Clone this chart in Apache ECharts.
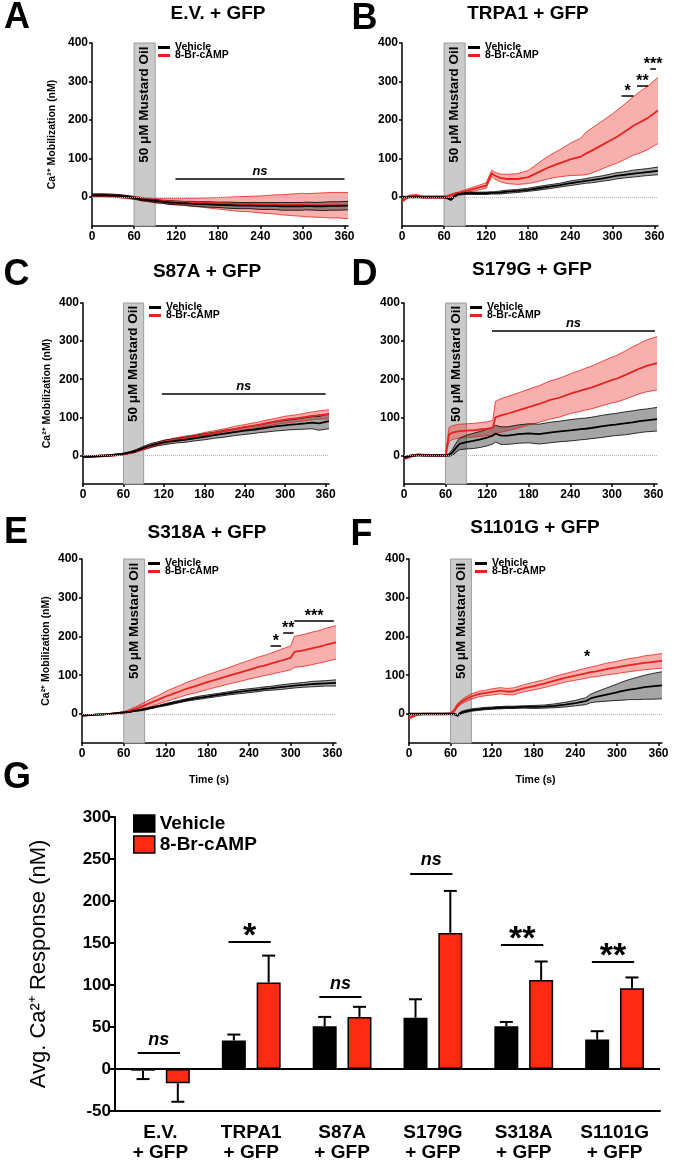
<!DOCTYPE html>
<html>
<head>
<meta charset="utf-8">
<title>Ca2+ mobilization</title>
<script src="https://cdn.jsdelivr.net/npm/echarts@6.0.0/dist/echarts.min.js"></script>
<style>
  html, body { margin: 0; padding: 0; background: #fff; }
  #chart { width: 675px; height: 1169px; }
</style>
</head>
<body>
<div id="chart"></div>
<script>
// sampling times of the traces (s)
var timeSec = [0,10,20,30,40,50,60, 65,70,75,80, 90,100,110,120, 128,132, 140,150,165,180, 195,210,225,240, 255,262,270, 285,300,305, 318,330,340,350,365];

// A  E.V. + GFP
var vehMeanA  = [5,5,5,4,3,1,-2, -4,-6,-7,-8, -10,-12,-14,-15, -16,-16, -17,-18,-19,-20, -21,-22,-22,-23, -23,-23,-24, -24,-24,-23, -24,-24,-23,-23,-22];
var vehSemA   = [3,3,3,3,3,3,3, 3,3,3,3, 4,4,5,5, 5,5, 6,6,7,7, 8,8,8,9, 9,9,10, 10,10,10, 10,11,11,11,11];
var campMeanA = [4,5,4,4,2,0,-2, -3,-5,-6,-7, -9,-10,-11,-12, -12,-13, -13,-14,-15,-16, -17,-18,-18,-19, -19,-19,-20, -20,-20,-21, -21,-21,-21,-21,-22];
var campSemA  = [4,4,4,4,4,4,4, 4,5,5,5, 6,6,7,8, 8,9, 10,11,13,15, 17,19,20,22, 24,25,26, 28,30,30, 31,32,33,33,34];

// B  TRPA1 + GFP
var vehMeanB  = [0,0,0,0,0,0,0, -3,-6,2,8, 10,10,10,10, 11,11, 12,14,16,19, 23,27,31,36, 40,42,44, 48,53,55, 58,61,63,65,68];
var vehSemB   = [2,2,2,2,2,2,2, 2,3,3,3, 3,3,3,3, 3,3, 4,4,4,4, 5,5,5,6, 6,6,7, 7,8,8, 8,9,9,9,10];
var campMeanB = [-10,2,4,0,0,0,0, 2,5,8,10, 15,20,25,30, 62,56, 50,47,47,52, 65,78,88,98, 105,113,120, 135,150,155, 170,185,195,205,225];
var campSemB  = [3,3,3,3,3,3,3, 3,3,3,3, 4,5,6,7, 8,9, 10,12,14,17, 24,30,35,42, 48,55,58, 62,66,68, 72,76,80,82,86];

// C  S87A + GFP
var vehMeanC  = [-4,-3,-2,-1,0,2,4, 6,8,10,13, 20,26,30,34, 36,37, 39,41,45,49, 53,57,61,65, 68,70,72, 76,79,80, 82,84,86,84,90];
var vehSemC   = [2,2,2,2,2,2,2, 2,2,3,3, 4,5,5,6, 6,6, 6,7,7,8, 8,9,9,10, 10,10,11, 12,13,13, 14,15,16,18,20];
var campMeanC = [-3,-3,-2,-1,0,1,3, 5,7,9,12, 18,24,30,35, 38,40, 42,45,49,54, 59,64,69,74, 79,81,84, 89,94,95, 98,101,104,106,108];
var campSemC  = [2,2,2,2,2,2,2, 2,2,3,3, 3,4,4,4, 4,4, 5,5,5,6, 6,6,7,7, 7,7,8, 8,9,9, 9,10,10,11,12];

// D  S179G + GFP
var vehMeanD  = [-6,-1,1,0,0,0,0, 1,8,20,30, 35,38,42,47, 52,57, 52,52,56,58, 56,60,63,66, 69,70,72, 76,80,81, 84,87,90,92,95];
var vehSemD   = [3,2,2,2,2,2,2, 3,8,12,15, 18,20,21,22, 22,22, 23,23,24,25, 26,27,27,28, 28,28,28, 29,29,29, 30,30,30,30,31];
var campMeanD = [-8,-2,2,1,0,0,0, 55,60,62,64, 65,66,68,70, 72,100, 105,110,118,127, 135,145,152,162, 170,174,178, 188,198,200, 210,220,228,235,242];
var campSemD  = [3,3,2,2,2,2,2, 18,18,18,18, 18,18,18,18, 20,42, 44,45,46,47, 48,50,51,52, 54,55,56, 58,60,61, 63,65,66,68,70];

// E  S318A + GFP
var vehMeanE  = [-4,-3,-2,-1,0,2,4, 5,6,8,9, 12,16,20,24, 27,29, 32,36,41,45, 49,53,57,60, 63,65,66, 69,72,73, 75,77,78,79,80];
var vehSemE   = [1,1,1,1,1,1,1, 1,1,1,2, 2,2,2,3, 3,3, 3,3,4,4, 4,4,5,5, 5,5,5, 6,6,6, 6,7,7,7,8];
var campMeanE = [-4,-3,-2,-1,0,2,4, 6,9,12,15, 22,30,37,45, 50,53, 58,65,73,82, 90,98,106,114, 122,125,129, 137,145,160, 164,169,173,178,185];
var campSemE  = [1,1,1,1,1,1,2, 3,4,5,6, 8,10,11,13, 14,14, 15,16,18,19, 20,21,23,24, 26,26,27, 29,31,40, 41,42,42,43,43];

// F  S1101G + GFP
var vehMeanF  = [0,0,0,0,0,0,0, 0,-4,3,6, 10,12,14,15, 16,16, 17,17,18,18, 19,21,24,28, 33,40,44, 50,56,58, 63,66,69,71,74];
var vehSemF   = [2,2,2,2,2,2,2, 2,2,3,3, 3,3,3,3, 3,3, 3,3,3,4, 4,5,6,7, 9,11,13, 17,21,23, 26,29,31,33,35];
var campMeanF = [-10,-3,0,0,0,0,1, 8,22,30,36, 45,51,54,57, 59,60, 58,58,66,72, 78,86,93,99, 105,108,110, 116,120,122, 126,129,132,134,137];
var campSemF  = [3,2,2,2,2,2,2, 4,5,5,6, 7,7,7,8, 8,8, 8,9,9,10, 10,11,11,12, 13,13,14, 15,16,16, 17,17,18,18,19];

// significance bars on the traces: [from s, to s, at nM, label]
var sigA = [[119, 360, 48, 'ns']];
var sigB = [[313, 330, 263, '*'], [335, 351, 290, '**'], [354, 362, 333, '***']];
var sigC = [[117, 360, 162, 'ns']];
var sigD = [[127, 362, 326, 'ns']];
var sigE = [[271, 286, 177, '*'], [289, 304, 209, '**'], [305, 362, 241, '***']];
var sigF = [];
var starF = [257, 146];

var xTicks = [0, 60, 120, 180, 240, 300, 360];
var yTicks = [0, 100, 200, 300, 400];

// G  average response
var barCategories = ['E.V.\n+ GFP', 'TRPA1\n+ GFP', 'S87A\n+ GFP', 'S179G\n+ GFP', 'S318A\n+ GFP', 'S1101G\n+ GFP'];
var barVehMean  = [-2, 34, 51, 61, 51, 35];
var barVehErr   = [10, 7, 11, 22, 5, 10];
var barCampMean = [-17, 103, 62, 162, 106, 96];
var barCampErr  = [22, 32, 12, 50, 22, 13];
var barSigLabels  = ['ns', '*', 'ns', 'ns', '**', '**'];
var barSigHeights = [19, 152, 86, 233, 148, 128];

var FONT = '"Liberation Sans", Arial, Helvetica, sans-serif';
var RED = '#e8231d';
var BAR_RED = '#ff2a12';
var BAR_W = 24, BAR_GAP = 0.45;

var panels = [
  { title: 'E.V. + GFP',   veh: vehMeanA, vehSem: vehSemA, camp: campMeanA, campSem: campSemA, sig: sigA, stars: [] },
  { title: 'TRPA1 + GFP',  veh: vehMeanB, vehSem: vehSemB, camp: campMeanB, campSem: campSemB, sig: sigB, stars: [] },
  { title: 'S87A + GFP',   veh: vehMeanC, vehSem: vehSemC, camp: campMeanC, campSem: campSemC, sig: sigC, stars: [] },
  { title: 'S179G + GFP',  veh: vehMeanD, vehSem: vehSemD, camp: campMeanD, campSem: campSemD, sig: sigD, stars: [] },
  { title: 'S318A + GFP',  veh: vehMeanE, vehSem: vehSemE, camp: campMeanE, campSem: campSemE, sig: sigE, stars: [] },
  { title: 'S1101G + GFP', veh: vehMeanF, vehSem: vehSemF, camp: campMeanF, campSem: campSemF, sig: sigF, stars: [starF] }
];

// pixel layout of the six trace panels
var layout = [
  { left: 92,  top: 43,  width: 256, height: 183, letter: 'A', lx: 17,    ly: 18.5,  tx: 218, ty: 13.5 },
  { left: 402, top: 43,  width: 256, height: 183, letter: 'B', lx: 364.5, ly: 19,    tx: 528, ty: 13.5 },
  { left: 83,  top: 303, width: 246, height: 181, letter: 'C', lx: 16.5,  ly: 275,   tx: 207, ty: 271.5 },
  { left: 404, top: 303, width: 253, height: 181, letter: 'D', lx: 364.5, ly: 275,   tx: 532, ty: 270 },
  { left: 82,  top: 559, width: 254, height: 184, letter: 'E', lx: 16,    ly: 533,   tx: 207, ty: 533 },
  { left: 409, top: 559, width: 253, height: 184, letter: 'F', lx: 361.5, ly: 535.5, tx: 535, ty: 528 }
];

// [t, mean + k*sem] pairs; with no sem just [t, mean]
function pairs(mean, sem, k) {
  return timeSec.map(function (t, i) { return [t, sem ? mean[i] + k * sem[i] : mean[i]]; });
}
// SEM band drawn as one polygon through the axis scales
function bandRenderer(mean, sem, fill) {
  return function (params, api) {
    if (params.dataIndex !== 0) return null;
    var pts = [], i;
    for (i = 0; i < timeSec.length; i++) pts.push(api.coord([timeSec[i], mean[i] + sem[i]]));
    for (i = timeSec.length - 1; i >= 0; i--) pts.push(api.coord([timeSec[i], mean[i] - sem[i]]));
    return { type: 'polygon', shape: { points: pts }, style: { fill: fill } };
  };
}
function edgeSeries(k, data, color) {
  return { type: 'line', xAxisIndex: k, yAxisIndex: k, data: data, symbol: 'none', silent: true, z: 2,
    lineStyle: { color: color, width: 0.8 } };
}
function boldText(size) {
  return 'bold ' + size + 'px ' + FONT;
}

var grids = [], xAxes = [], yAxes = [], series = [], legends = [], graphics = [];
var axisLineStyle = { color: '#000', width: 1.5 };

panels.forEach(function (p, k) {
  var L = layout[k];
  var leftCol = (k % 2 === 0), lastRow = (k >= 4);

  grids.push({ left: L.left, top: L.top, width: L.width, height: L.height, outerBoundsMode: 'none' });

  xAxes.push({
    type: 'value', gridIndex: k, min: 0, max: 365,
    axisLine: { show: true, onZero: false, lineStyle: axisLineStyle },
    axisTick: { show: true, customValues: xTicks, length: 3, lineStyle: axisLineStyle },
    axisLabel: { customValues: xTicks, color: '#000', fontSize: 12, fontWeight: 'bold', margin: 5 },
    splitLine: { show: false },
    name: lastRow ? 'Time (s)' : '', nameLocation: 'middle', nameGap: 32, nameMoveOverlap: false,
    nameTextStyle: { color: '#000', fontSize: 10.5, fontWeight: 'bold' }
  });
  yAxes.push({
    type: 'value', gridIndex: k, min: -75, max: 400,
    axisLine: { show: true, onZero: false, lineStyle: axisLineStyle },
    axisTick: { show: true, customValues: yTicks, length: 3, lineStyle: axisLineStyle },
    axisLabel: { customValues: yTicks, color: '#000', fontSize: 12, fontWeight: 'bold', margin: 4 },
    splitLine: { show: false },
    name: leftCol ? 'Ca²⁺ Mobilization (nM)' : '', nameLocation: 'middle',
    nameGap: k === 0 ? 34 : 30, nameMoveOverlap: false,
    nameTextStyle: { color: '#000', fontSize: 10.5, fontWeight: 'bold' }
  });

  // stimulus window, zero line, significance marks
  var marks = [{ yAxis: 0, lineStyle: { color: '#b4b4b4', width: 1, type: 'dotted' } }];
  p.sig.forEach(function (s) {
    var isNs = s[3] === 'ns';
    marks.push([
      { coord: [s[0], s[2]], label: { show: true, position: 'insideMiddleTop', formatter: s[3],
        distance: isNs ? 1 : -4, fontSize: isNs ? 13 : 16, fontWeight: 'bold',
        fontStyle: isNs ? 'italic' : 'normal', color: '#000' } },
      { coord: [s[1], s[2]] }
    ]);
  });
  var pts = [{ coord: [75, 240], label: { show: true, position: 'inside', formatter: '50 μM Mustard Oil',
    rotate: 90, fontSize: 13.5, fontWeight: 'bold', color: '#000' } }];
  p.stars.forEach(function (s) {
    pts.push({ coord: [s[0], s[1]], label: { show: true, position: 'inside', formatter: '*',
      fontSize: 16, fontWeight: 'bold', color: '#000' } });
  });
  series.push({
    type: 'line', xAxisIndex: k, yAxisIndex: k, data: [], silent: true, z: 1,
    markArea: { silent: true, itemStyle: { color: '#cacaca', borderColor: '#9c9c9c', borderWidth: 1 },
      data: [[{ xAxis: 60 }, { xAxis: 90 }]] },
    markLine: { silent: true, symbol: ['none', 'none'], lineStyle: { color: '#000', width: 1.5, type: 'solid' },
      label: { show: false }, data: marks },
    markPoint: { silent: true, symbol: 'circle', symbolSize: 1, itemStyle: { color: 'rgba(0,0,0,0)' }, data: pts }
  });

  // SEM bands, their edges, then the mean traces
  series.push({ type: 'custom', xAxisIndex: k, yAxisIndex: k, silent: true, z: 2, clip: true,
    data: pairs(p.camp), renderItem: bandRenderer(p.camp, p.campSem, 'rgba(232,35,29,0.36)') });
  series.push({ type: 'custom', xAxisIndex: k, yAxisIndex: k, silent: true, z: 2, clip: true,
    data: pairs(p.veh), renderItem: bandRenderer(p.veh, p.vehSem, 'rgba(40,40,40,0.42)') });
  series.push(edgeSeries(k, pairs(p.camp, p.campSem, 1), RED));
  series.push(edgeSeries(k, pairs(p.camp, p.campSem, -1), RED));
  series.push(edgeSeries(k, pairs(p.veh, p.vehSem, 1), '#000'));
  series.push(edgeSeries(k, pairs(p.veh, p.vehSem, -1), '#000'));
  series.push({ type: 'line', name: '8-Br-cAMP', xAxisIndex: k, yAxisIndex: k, data: pairs(p.camp),
    symbol: 'none', silent: true, z: 3, lineStyle: { color: RED, width: 1.8 }, itemStyle: { color: RED } });
  series.push({ type: 'line', name: 'Vehicle', xAxisIndex: k, yAxisIndex: k, data: pairs(p.veh),
    symbol: 'none', silent: true, z: 3, lineStyle: { color: '#000', width: 1.8 }, itemStyle: { color: '#000' } });

  legends.push({
    left: L.left + 66, top: L.top - 1, orient: 'vertical', padding: 0, itemGap: -3,
    itemWidth: 12, itemHeight: 3, icon: 'rect', selectedMode: false,
    textStyle: { color: '#000', fontSize: 10.5, fontWeight: 'bold', lineHeight: 9 },
    data: [{ name: 'Vehicle', itemStyle: { color: '#000' } }, { name: '8-Br-cAMP', itemStyle: { color: RED } }]
  });

  graphics.push({ type: 'text', x: L.lx, y: L.ly, style: { text: L.letter, font: boldText(36), fill: '#000',
    textAlign: 'center', textVerticalAlign: 'middle' } });
  graphics.push({ type: 'text', x: L.tx, y: L.ty, style: { text: p.title, font: boldText(19), fill: '#000',
    textAlign: 'center', textVerticalAlign: 'middle' } });
});

// ---- panel G: bar chart ----
grids.push({ left: 115, top: 817, width: 545, height: 294, outerBoundsMode: 'none' });
xAxes.push({
  type: 'category', gridIndex: 6, data: barCategories,
  axisLine: { show: true, onZero: false, lineStyle: { color: '#000', width: 2 } },
  axisTick: { show: false },
  axisLabel: { interval: 0, color: '#000', fontSize: 19, fontWeight: 'bold', lineHeight: 20, margin: 12 }
});
xAxes.push({ type: 'value', gridIndex: 6, min: -0.5, max: 5.5, show: false });
yAxes.push({
  type: 'value', gridIndex: 6, min: -50, max: 300, interval: 50,
  axisLine: { show: true, onZero: false, lineStyle: { color: '#000', width: 2 } },
  axisTick: { show: true, length: 5, lineStyle: { color: '#000', width: 2 } },
  axisLabel: { color: '#000', fontSize: 17, fontWeight: 'bold', margin: 4 },
  splitLine: { show: false },
  name: 'Avg. Ca²⁺ Response (nM)', nameLocation: 'middle', nameGap: 65, nameMoveOverlap: false,
  nameTextStyle: { color: '#000', fontSize: 22 }
});

function errorBarRenderer(side) {
  return function (params, api) {
    var i = api.value(0), m = api.value(1), e = api.value(2);
    var dir = m < 0 ? -1 : 1;
    var p0 = api.coord([i, m]);
    var p1 = api.coord([i, m + dir * e]);
    var x = p0[0] + side * BAR_W * (1 + BAR_GAP) / 2;
    var st = { stroke: '#000', lineWidth: 2 };
    return { type: 'group', children: [
      { type: 'line', shape: { x1: x, y1: p0[1], x2: x, y2: p1[1] }, style: st },
      { type: 'line', shape: { x1: x - 6.5, y1: p1[1], x2: x + 6.5, y2: p1[1] }, style: st }
    ] };
  };
}

series.push({
  type: 'bar', name: 'Vehicle', xAxisIndex: 6, yAxisIndex: 6, data: barVehMean,
  barWidth: BAR_W, barGap: (BAR_GAP * 100) + '%', silent: true, z: 2,
  itemStyle: { color: '#000', borderColor: '#000', borderWidth: 1.5 },
  markLine: { silent: true, symbol: ['none', 'none'], label: { show: false },
    lineStyle: { color: '#000', width: 2, type: 'solid' }, data: [{ yAxis: 0 }] }
});
series.push({
  type: 'bar', name: '8-Br-cAMP', xAxisIndex: 6, yAxisIndex: 6, data: barCampMean,
  barWidth: BAR_W, barGap: (BAR_GAP * 100) + '%', silent: true, z: 2,
  itemStyle: { color: BAR_RED, borderColor: '#000', borderWidth: 1.5 }
});
series.push({
  type: 'custom', xAxisIndex: 6, yAxisIndex: 6, silent: true, z: 3,
  data: barVehMean.map(function (m, i) { return [i, m, barVehErr[i]]; }),
  renderItem: errorBarRenderer(-1)
});
series.push({
  type: 'custom', xAxisIndex: 6, yAxisIndex: 6, silent: true, z: 3,
  data: barCampMean.map(function (m, i) { return [i, m, barCampErr[i]]; }),
  renderItem: errorBarRenderer(1)
});
series.push({
  type: 'line', xAxisIndex: 7, yAxisIndex: 6, data: [], silent: true,
  markLine: {
    silent: true, symbol: ['none', 'none'], label: { show: false },
    lineStyle: { color: '#000', width: 2, type: 'solid' },
    data: barSigLabels.map(function (s, i) {
      var isNs = s === 'ns';
      return [
        { coord: [i - 0.25, barSigHeights[i]], label: { show: true, position: 'insideMiddleTop', formatter: s,
          distance: isNs ? 4 : -12, fontSize: isNs ? 18 : 34, fontWeight: 'bold',
          fontStyle: isNs ? 'italic' : 'normal', color: '#000' } },
        { coord: [i + 0.215, barSigHeights[i]] }
      ];
    })
  }
});

legends.push({
  left: 133, top: 813.5, orient: 'vertical', padding: 0, itemGap: 1,
  itemWidth: 21, itemHeight: 17, icon: 'rect', selectedMode: false,
  textStyle: { color: '#000', fontSize: 19, fontWeight: 'bold', lineHeight: 20 },
  data: [
    { name: 'Vehicle', itemStyle: { color: '#000', borderColor: '#000', borderWidth: 1.5 } },
    { name: '8-Br-cAMP', itemStyle: { color: BAR_RED, borderColor: '#000', borderWidth: 1.5 } }
  ]
});
graphics.push({ type: 'text', x: 17, y: 778, style: { text: 'G', font: boldText(36), fill: '#000',
  textAlign: 'center', textVerticalAlign: 'middle' } });

var chart = echarts.init(document.getElementById('chart'));
chart.setOption({
  animation: false,
  textStyle: { fontFamily: FONT },
  tooltip: { show: false },
  grid: grids,
  xAxis: xAxes,
  yAxis: yAxes,
  legend: legends,
  graphic: graphics,
  series: series
});
</script>
</body>
</html>
